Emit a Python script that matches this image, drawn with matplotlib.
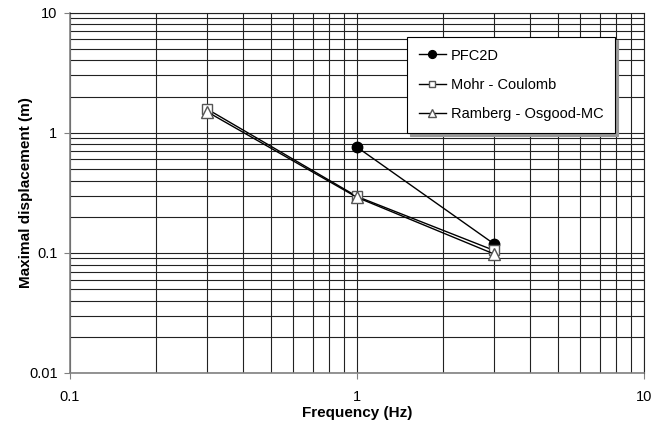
import matplotlib
matplotlib.use("Agg")
import matplotlib.pyplot as plt
from matplotlib.ticker import LogLocator, FixedLocator, NullFormatter

plt.rcParams['font.family'] = ['Liberation Sans', 'DejaVu Sans']

pfc_x = [1, 3]
pfc_y = [0.76, 0.119]
mc_x = [0.3, 1, 3]
mc_y = [1.58, 0.295, 0.105]
ro_x = [0.3, 1, 3]
ro_y = [1.5, 0.29, 0.098]

xticks = [0.1, 1, 10]
xticklabels = ['0.1', '1', '10']
yticks = [0.01, 0.1, 1, 10]
yticklabels = ['0.01', '0.1', '1', '10']

fig = plt.figure(figsize=(6.72, 4.24), dpi=100)
ax = fig.add_axes([70/672, 1-373/424, 574/672, 360.3/424])
ax.set_xscale('log')
ax.set_yscale('log')
ax.set_xlim(0.1, 10)
ax.set_ylim(0.01, 10)

ax.xaxis.set_major_locator(FixedLocator(xticks))
ax.yaxis.set_major_locator(FixedLocator(yticks))
ax.set_xticklabels(xticklabels)
ax.set_yticklabels(yticklabels)
ax.xaxis.set_minor_locator(LogLocator(base=10, subs=range(2, 10)))
ax.yaxis.set_minor_locator(LogLocator(base=10, subs=range(2, 10)))
ax.xaxis.set_minor_formatter(NullFormatter())
ax.yaxis.set_minor_formatter(NullFormatter())

ax.grid(True, which='both', color='#222222', linewidth=0.8)
ax.set_axisbelow(True)
ax.tick_params(which='major', direction='out', length=4, color='#808080', labelsize=10.5)
ax.tick_params(axis='x', which='major', pad=8)
ax.tick_params(axis='y', which='major', pad=5)
ax.tick_params(which='minor', length=0)
for s in ['left', 'bottom']:
    ax.spines[s].set_color('#808080')
    ax.spines[s].set_linewidth(1.2)
for s in ['top', 'right']:
    ax.spines[s].set_color('#222222')
    ax.spines[s].set_linewidth(0.8)

ax.plot(pfc_x, pfc_y, color='black', lw=1, marker='o', ms=7.5, mfc='black', mec='black', label='PFC2D', zorder=3)
ax.plot(mc_x, mc_y, color='black', lw=1, marker='s', ms=6.5, mfc='white', mec='#555555', label='Mohr - Coulomb', zorder=4)
ax.plot(ro_x, ro_y, color='black', lw=1, marker='^', ms=8, mfc='white', mec='#555555', label='Ramberg - Osgood-MC', zorder=5)

leg = ax.legend(loc='upper left', bbox_to_anchor=(0.587, 0.933), frameon=True, fancybox=False,
                shadow={'color': '#999999', 'alpha': 1}, edgecolor='black', framealpha=1,
                fontsize=10.5, handlelength=1.9, labelspacing=1.05, borderpad=0.8,
                handletextpad=0.3, markerscale=0.75, borderaxespad=0)
leg.get_frame().set_linewidth(0.8)

ax.set_xlabel('Frequency (Hz)', fontsize=11, fontweight='bold', labelpad=2)
ax.set_ylabel('Maximal displacement (m)', fontsize=11, fontweight='bold', labelpad=-3)

fig.savefig('out.png', dpi=100)
